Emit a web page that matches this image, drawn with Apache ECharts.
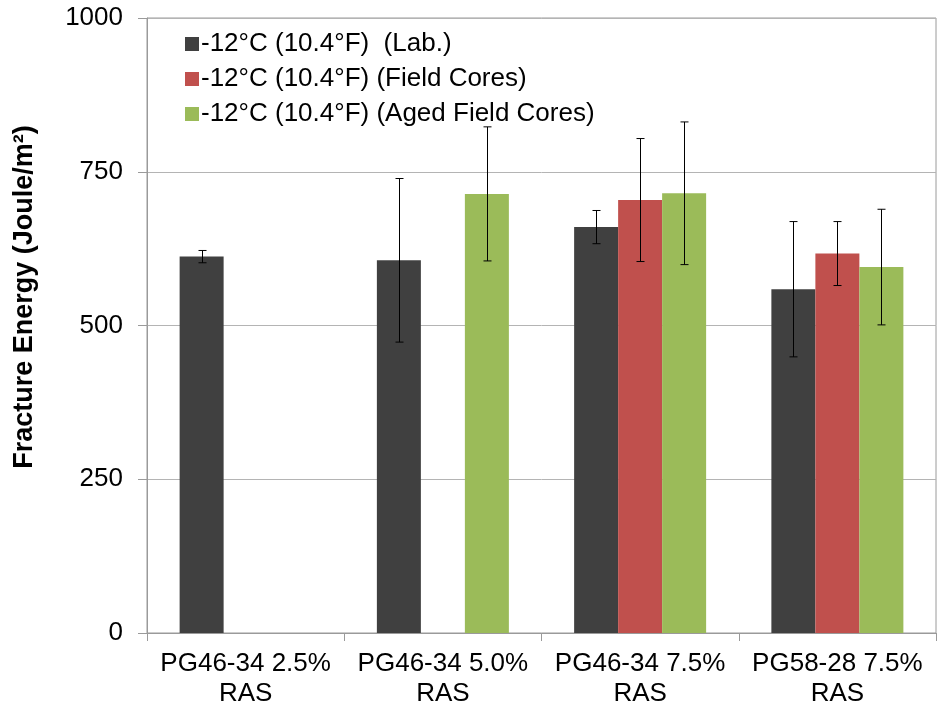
<!DOCTYPE html>
<html><head><meta charset="utf-8">
<script src="https://cdn.jsdelivr.net/npm/echarts@6/dist/echarts.min.js"></script>
<style>html,body{margin:0;padding:0;background:#fff}#c{width:939px;height:714px}</style>
</head><body><div id="c"></div>
<script>
const categories = ['PG46-34 2.5%\nRAS', 'PG46-34 5.0%\nRAS', 'PG46-34 7.5%\nRAS', 'PG58-28 7.5%\nRAS'];
const seriesNames = ['-12°C (10.4°F)  (Lab.)', '-12°C (10.4°F) (Field Cores)', '-12°C (10.4°F) (Aged Field Cores)'];
const labValues = [612, 606, 660, 559];
const labErrors = [10, 133, 27, 110];
const fieldValues = [null, null, 704, 617];
const fieldErrors = [null, null, 100, 52];
const agedValues = [null, 714, 715, 595];
const agedErrors = [null, 109, 116, 94];
const yTicks = [0, 250, 500, 750, 1000];
const yTitle = 'Fracture Energy (Joule/m²)';
const colors = ['#404040', '#C0504D', '#9BBB59'];

const BAR_W = 44;
const chart = echarts.init(document.getElementById('c'));
const font = 'Liberation Sans, Arial, sans-serif';

function errSeries(values, errors, idx) {
  const data = [];
  values.forEach((v, i) => { if (v != null) data.push([i, v - errors[i], v + errors[i]]); });
  return {
    type: 'custom', name: 'err' + idx, z: 10, silent: true,
    data: data,
    encode: { x: 0, y: [1, 2] },
    renderItem: function (params, api) {
      const c = api.value(0);
      const lo = api.coord([c, api.value(1)]);
      const hi = api.coord([c, api.value(2)]);
      const x = Math.round(lo[0] + (idx - 1) * BAR_W) + 0.5;
      const cap = 4;
      const st = { stroke: '#000', lineWidth: 1 };
      return { type: 'group', children: [
        { type: 'line', shape: { x1: x, y1: lo[1], x2: x, y2: hi[1] }, style: st },
        { type: 'line', shape: { x1: x - cap, y1: lo[1], x2: x + cap, y2: lo[1] }, style: st },
        { type: 'line', shape: { x1: x - cap, y1: hi[1], x2: x + cap, y2: hi[1] }, style: st }
      ]};
    }
  };
}

const toData = arr => arr.map(v => v == null ? '-' : v);

chart.setOption({
  animation: false,
  backgroundColor: '#fff',
  grid: { left: 147, right: 3, top: 18, bottom: 81, show: true, borderColor: '#9a9a9a', borderWidth: 1 },
  legend: {
    data: seriesNames, orient: 'vertical', left: 180, top: 25,
    itemWidth: 14, itemHeight: 14, itemGap: 7,
    textStyle: { fontFamily: font, fontSize: 26, color: '#000', lineHeight: 28, padding: [0, 0, 0, -3] },
    icon: 'rect'
  },
  graphic: [{
    type: 'text', z: 100,
    x: 25, y: 297, rotation: Math.PI / 2,
    style: { text: yTitle, font: 'bold 27px ' + font, fill: '#000', align: 'center', verticalAlign: 'middle' }
  }],
  xAxis: {
    type: 'category', data: categories,
    axisLine: { lineStyle: { color: '#9a9a9a' } },
    axisTick: { show: true, length: 8, interval: 0, lineStyle: { color: '#9a9a9a' } },
    axisLabel: { interval: 0, fontFamily: font, fontSize: 26, color: '#000', margin: 16, lineHeight: 30 }
  },
  yAxis: {
    type: 'value', min: 0, max: 1000, interval: 250,
    axisLine: { show: true, lineStyle: { color: '#9a9a9a' } },
    axisTick: { show: true, length: 9, lineStyle: { color: '#9a9a9a' } },
    axisLabel: { fontFamily: font, fontSize: 26, color: '#000', margin: 24,
      formatter: v => yTicks.includes(v) ? String(v) : '' },
    splitLine: { lineStyle: { color: '#b4b4b4' } }
  },
  series: [
    { type: 'bar', name: seriesNames[0], data: toData(labValues), barWidth: BAR_W, barGap: '0%', itemStyle: { color: colors[0] } },
    { type: 'bar', name: seriesNames[1], data: toData(fieldValues), barWidth: BAR_W, barGap: '0%', itemStyle: { color: colors[1] } },
    { type: 'bar', name: seriesNames[2], data: toData(agedValues), barWidth: BAR_W, barGap: '0%', itemStyle: { color: colors[2] } },
    errSeries(labValues, labErrors, 0),
    errSeries(fieldValues, fieldErrors, 1),
    errSeries(agedValues, agedErrors, 2)
  ]
});
</script></body></html>
